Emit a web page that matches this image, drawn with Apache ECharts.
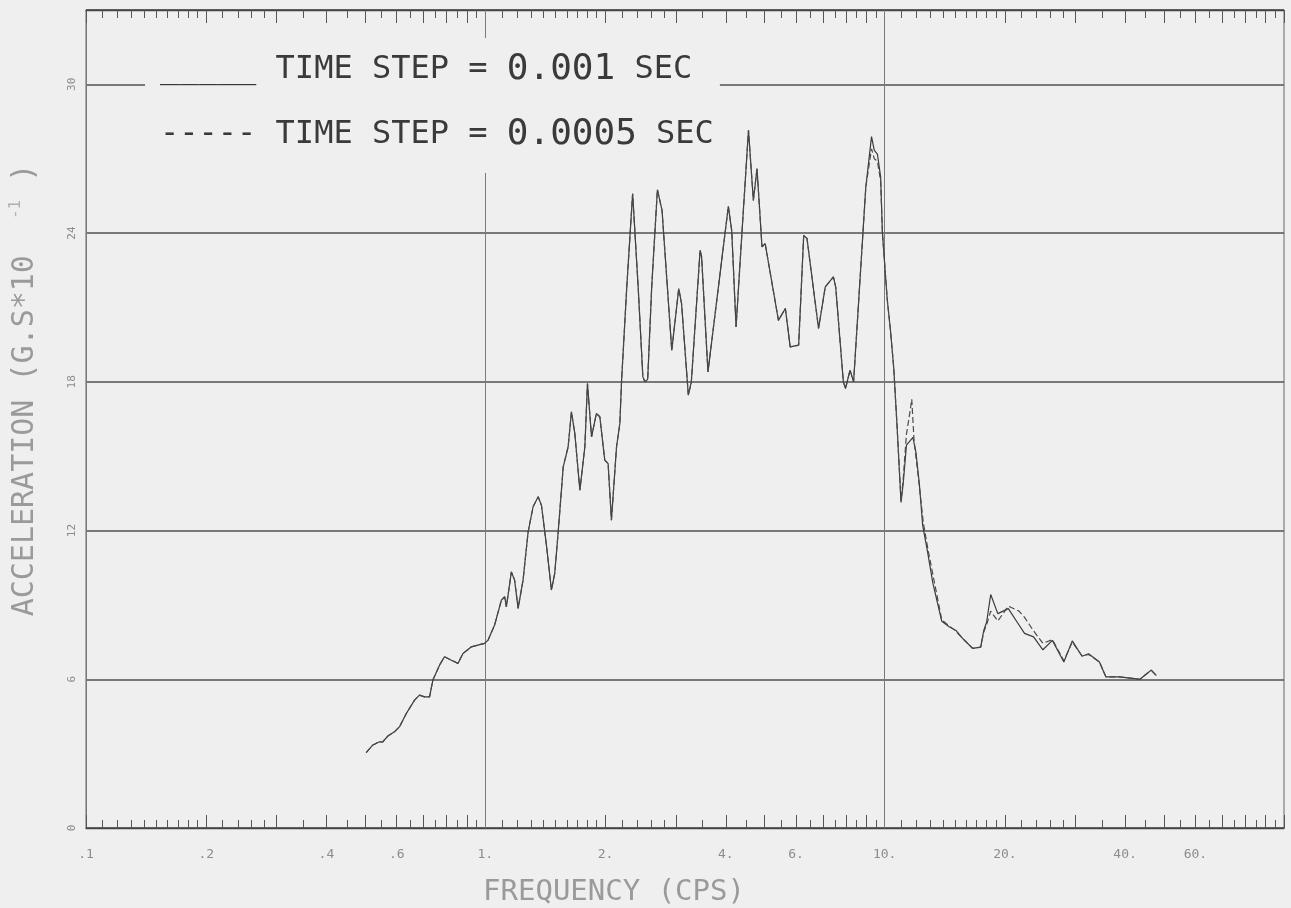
<!DOCTYPE html>
<html>
<head>
<meta charset="utf-8">
<title>Response spectrum</title>
<script src="https://cdn.jsdelivr.net/npm/echarts@6/dist/echarts.min.js"></script>
<style>
  html, body { margin: 0; padding: 0; background: #efefef; }
  #chart { width: 1291px; height: 908px; }
</style>
</head>
<body>
<div id="chart"></div>
<script>
// Spectral acceleration versus frequency for two integration time steps.
var timeSteps = ['0.001', '0.0005'];

// Frequency (cps) and acceleration, time step 0.001 sec
var freqCoarse = [0.503, 0.523, 0.543, 0.553, 0.570, 0.592, 0.610, 0.634, 0.665, 0.684, 0.704, 0.725, 0.739, 0.768, 0.790, 0.822, 0.854, 0.879, 0.923, 0.958, 0.996, 1.016, 1.055, 1.097, 1.118, 1.129, 1.162, 1.184, 1.208, 1.243, 1.280, 1.317, 1.356, 1.382, 1.424, 1.464, 1.492, 1.521, 1.567, 1.612, 1.643, 1.675, 1.725, 1.775, 1.802, 1.845, 1.897, 1.935, 1.991, 2.03, 2.069, 2.131, 2.172, 2.194, 2.26, 2.338, 2.414, 2.48, 2.51, 2.55, 2.61, 2.697, 2.77, 2.93, 3.05, 3.10, 3.224, 3.28, 3.45, 3.48, 3.61, 4.06, 4.14, 4.245, 4.39, 4.56, 4.69, 4.79, 4.93, 5.02, 5.42, 5.64, 5.80, 6.09, 6.27, 6.39, 6.83, 7.10, 7.44, 7.54, 7.88, 7.98, 8.19, 8.36, 8.97, 9.27, 9.42, 9.59, 9.77, 9.87, 10.15, 10.34, 10.54, 10.74, 10.99, 11.13, 11.34, 11.77, 11.98, 12.21, 12.45, 12.81, 13.2, 13.9, 14.5, 15.06, 15.67, 16.6, 17.4, 17.7, 18.0, 18.43, 19.2, 20.4, 21.7, 22.4, 23.6, 24.9, 26.3, 28.1, 29.5, 31.2, 32.4, 34.5, 35.8, 38.6, 41.7, 43.6, 44.9, 46.5, 47.9];
var accelCoarse = [3.04, 3.35, 3.48, 3.47, 3.71, 3.88, 4.09, 4.62, 5.16, 5.36, 5.29, 5.29, 5.97, 6.57, 6.91, 6.77, 6.64, 7.04, 7.31, 7.38, 7.45, 7.58, 8.19, 9.19, 9.33, 8.92, 10.33, 10.0, 8.86, 10.0, 11.95, 12.96, 13.36, 13.02, 11.34, 9.6, 10.27, 11.88, 14.57, 15.38, 16.79, 15.92, 13.63, 15.38, 17.93, 15.78, 16.72, 16.59, 14.84, 14.7, 12.42, 15.38, 16.32, 18.06, 21.8, 25.59, 21.83, 18.2, 18.0, 18.1, 21.83, 25.75, 24.92, 19.27, 21.76, 21.16, 17.46, 18.0, 23.31, 23.04, 18.4, 25.08, 24.1, 20.21, 23.98, 28.15, 25.32, 26.6, 23.44, 23.58, 20.48, 20.96, 19.41, 19.48, 23.91, 23.78, 20.15, 21.83, 22.23, 21.83, 18.0, 17.73, 18.47, 18.0, 25.86, 27.89, 27.34, 27.19, 26.27, 24.02, 21.32, 20.08, 18.54, 16.22, 13.13, 13.91, 15.45, 15.76, 15.14, 13.91, 12.21, 11.13, 9.89, 8.34, 8.12, 7.98, 7.65, 7.25, 7.3, 7.96, 8.3, 9.42, 8.65, 8.85, 8.19, 7.85, 7.71, 7.19, 7.57, 6.7, 7.55, 6.93, 7.03, 6.7, 6.1, 6.1, 6.04, 6.0, 6.17, 6.37, 6.15];

// Frequency (cps) and acceleration, time step 0.0005 sec
var freqFine = [0.503, 0.523, 0.543, 0.553, 0.570, 0.592, 0.610, 0.634, 0.665, 0.684, 0.704, 0.725, 0.739, 0.768, 0.790, 0.822, 0.854, 0.879, 0.923, 0.958, 0.996, 1.016, 1.055, 1.097, 1.118, 1.129, 1.162, 1.184, 1.208, 1.243, 1.280, 1.317, 1.356, 1.382, 1.424, 1.464, 1.492, 1.521, 1.567, 1.612, 1.643, 1.675, 1.725, 1.775, 1.802, 1.845, 1.897, 1.935, 1.991, 2.03, 2.069, 2.131, 2.172, 2.194, 2.26, 2.338, 2.414, 2.48, 2.51, 2.55, 2.61, 2.697, 2.77, 2.93, 3.05, 3.10, 3.224, 3.28, 3.45, 3.48, 3.61, 4.06, 4.14, 4.245, 4.39, 4.56, 4.69, 4.79, 4.93, 5.02, 5.42, 5.64, 5.80, 6.09, 6.27, 6.39, 6.83, 7.10, 7.44, 7.54, 7.88, 7.98, 8.19, 8.36, 8.97, 9.27, 9.42, 9.59, 9.77, 9.87, 10.15, 10.34, 10.54, 10.74, 10.99, 11.13, 11.34, 11.6, 11.69, 11.85, 12.05, 12.25, 12.5, 12.85, 13.25, 13.9, 14.5, 15.06, 15.67, 16.6, 17.4, 17.7, 18.0, 18.43, 19.2, 20.4, 21.7, 22.4, 23.6, 24.9, 26.3, 28.1, 29.5, 31.2, 32.4, 34.5, 35.8, 38.6, 41.7, 43.6, 44.9, 46.5, 47.9];
var accelFine = [3.04, 3.35, 3.48, 3.47, 3.71, 3.88, 4.09, 4.62, 5.16, 5.36, 5.29, 5.29, 5.97, 6.57, 6.91, 6.77, 6.64, 7.04, 7.31, 7.38, 7.45, 7.58, 8.19, 9.19, 9.33, 8.92, 10.33, 10.0, 8.86, 10.0, 11.95, 12.96, 13.36, 13.02, 11.34, 9.6, 10.27, 11.88, 14.57, 15.38, 16.79, 15.92, 13.63, 15.38, 17.93, 15.78, 16.72, 16.59, 14.84, 14.7, 12.42, 15.38, 16.32, 18.06, 21.8, 25.59, 21.83, 18.2, 18.0, 18.1, 21.83, 25.75, 24.92, 19.27, 21.76, 21.16, 17.46, 18.0, 23.31, 23.04, 18.4, 25.08, 24.1, 20.21, 23.98, 28.15, 25.32, 26.6, 23.44, 23.58, 20.48, 20.96, 19.41, 19.48, 23.91, 23.78, 20.15, 21.83, 22.23, 21.83, 18.0, 17.73, 18.47, 18.0, 25.86, 27.4, 27.0, 26.9, 26.1, 24.02, 21.32, 20.08, 18.54, 16.22, 13.2, 14.1, 15.9, 16.9, 17.3, 15.6, 14.6, 13.6, 12.3, 11.2, 10.1, 8.4, 8.15, 7.95, 7.65, 7.25, 7.3, 7.9, 8.2, 8.75, 8.35, 8.95, 8.75, 8.5, 7.95, 7.45, 7.6, 6.75, 7.5, 6.95, 7.0, 6.7, 6.1, 6.1, 6.04, 6.0, 6.17, 6.37, 6.15];

// Log-axis tick positions and labels
var majorTicks = [0.1, 0.2, 0.3, 0.4, 0.5, 0.6, 0.7, 0.8, 0.9, 1, 2, 3, 4, 5, 6, 7, 8, 9, 10, 20, 30, 40, 50, 60, 70, 80, 90, 100];
var minorTicks = [0.11, 0.12, 0.13, 0.14, 0.15, 0.16, 0.17, 0.18, 0.19, 0.22, 0.24, 0.26, 0.28, 0.35, 0.45, 0.55, 0.65, 0.75, 0.85, 0.95,
                  1.1, 1.2, 1.3, 1.4, 1.5, 1.6, 1.7, 1.8, 1.9, 2.2, 2.4, 2.6, 2.8, 3.5, 4.5, 5.5, 6.5, 7.5, 8.5, 9.5,
                  11, 12, 13, 14, 15, 16, 17, 18, 19, 22, 24, 26, 28, 35, 45, 55, 65, 75, 85, 95];
var labelValues = [0.1, 0.2, 0.4, 0.6, 1, 2, 4, 6, 10, 20, 40, 60];
var labelTexts = ['.1', '.2', '.4', '.6', '1.', '2.', '4.', '6.', '10.', '20.', '40.', '60.'];
var gridFreqs = [1, 10];

function pairs(xs, ys) {
  return xs.map(function (x, i) { return [x, ys[i]]; });
}
function labelFor(v) {
  for (var i = 0; i < labelValues.length; i++) {
    if (Math.abs(v - labelValues[i]) < labelValues[i] * 1e-6) return labelTexts[i];
  }
  return '';
}

var INK = '#3a3a3a';
var MONO = 'DejaVu Sans Mono';
var seriesNames = timeSteps.map(function (s) { return 'TIME STEP = ' + s + ' SEC'; });

function logAxis(position, ticks, len, withLine, withLabel) {
  return {
    type: 'log', logBase: 10, min: 0.1, max: 100, position: position,
    axisLine: { show: withLine, lineStyle: { color: '#444', width: 1.4 } },
    axisTick: { show: true, inside: true, length: len, customValues: ticks, lineStyle: { color: '#555', width: 1 } },
    axisLabel: withLabel ? {
      show: true, customValues: labelValues, margin: 20,
      color: '#8c8c8c', fontFamily: MONO, fontSize: 13,
      formatter: function (v) { return labelFor(v); }
    } : { show: false },
    splitLine: { show: false }
  };
}

var xBottom = logAxis('bottom', majorTicks, 13, true, true);
xBottom.name = 'FREQUENCY (CPS)';
xBottom.nameLocation = 'middle';
xBottom.nameGap = 50;
xBottom.nameTextStyle = { fontFamily: MONO, fontSize: 29, color: '#9a9a9a', padding: [0, 142, 0, 0] };

var chart = echarts.init(document.getElementById('chart'), null, { renderer: 'canvas' });
chart.setOption({
  backgroundColor: '#efefef',
  animation: false,
  grid: {
    left: 86, right: 7, top: 10, bottom: 80,
    show: true, borderColor: '#666', borderWidth: 1,
    containLabel: false, outerBoundsMode: 'none'
  },
  legend: {
    data: seriesNames,
    orient: 'vertical', left: 145, top: 38,
    icon: 'none', itemWidth: 0, itemHeight: 0, itemGap: 29,
    padding: [14, 6, 20, 10],
    backgroundColor: '#efefef',
    selectedMode: false,
    z: 20,
    formatter: function (name) {
      var i = seriesNames.indexOf(name);
      var sample = i === 0 ? '{s|_____}' : '{s|-----}';
      return sample + ' {t|TIME STEP =} {n|' + timeSteps[i] + '} {t|SEC}';
    },
    textStyle: {
      fontFamily: MONO, fontSize: 32, color: INK,
      rich: {
        s: { fontFamily: MONO, fontSize: 32, color: INK, lineHeight: 41 },
        t: { fontFamily: MONO, fontSize: 32, color: INK, lineHeight: 41 },
        n: { fontFamily: MONO, fontSize: 36, color: INK, lineHeight: 41 }
      }
    }
  },
  xAxis: [
    xBottom,
    logAxis('bottom', minorTicks, 8, false, false),
    logAxis('top', majorTicks, 13, true, false),
    logAxis('top', minorTicks, 8, false, false)
  ],
  yAxis: {
    type: 'value', min: 0, max: 33, interval: 6,
    axisLine: { show: true, lineStyle: { color: '#777', width: 1 } },
    axisTick: { show: false },
    axisLabel: { rotate: 90, margin: 8, color: '#8c8c8c', fontFamily: MONO, fontSize: 11, showMaxLabel: false },
    splitLine: { show: true, lineStyle: { color: '#505050', width: 1.7 } },
    name: 'ACCELERATION (G.S*10{sup|-1} )',
    nameLocation: 'middle', nameRotate: 90, nameGap: 44,
    nameTextStyle: {
      fontFamily: MONO, fontSize: 30, color: '#9a9a9a', padding: [0, 0, 0, 58],
      rich: { sup: { fontFamily: MONO, fontSize: 16, color: '#b0b0b0', padding: [0, 0, 18, 36] } }
    }
  },
  series: [
    {
      name: seriesNames[0], type: 'line', xAxisIndex: 0,
      data: pairs(freqCoarse, accelCoarse),
      showSymbol: false, symbol: 'none',
      lineStyle: { color: INK, width: 1.2 },
      z: 3,
      markLine: {
        silent: true, symbol: 'none', z: 1, label: { show: false },
        lineStyle: { color: '#7a7a7a', width: 1, type: 'solid' },
        data: gridFreqs.map(function (f) { return { xAxis: f }; })
      }
    },
    {
      name: seriesNames[1], type: 'line', xAxisIndex: 0,
      data: pairs(freqFine, accelFine),
      showSymbol: false, symbol: 'none',
      lineStyle: { color: '#4a4a4a', width: 1.2, type: [6, 3] },
      z: 4
    }
  ]
});
</script>
</body>
</html>
